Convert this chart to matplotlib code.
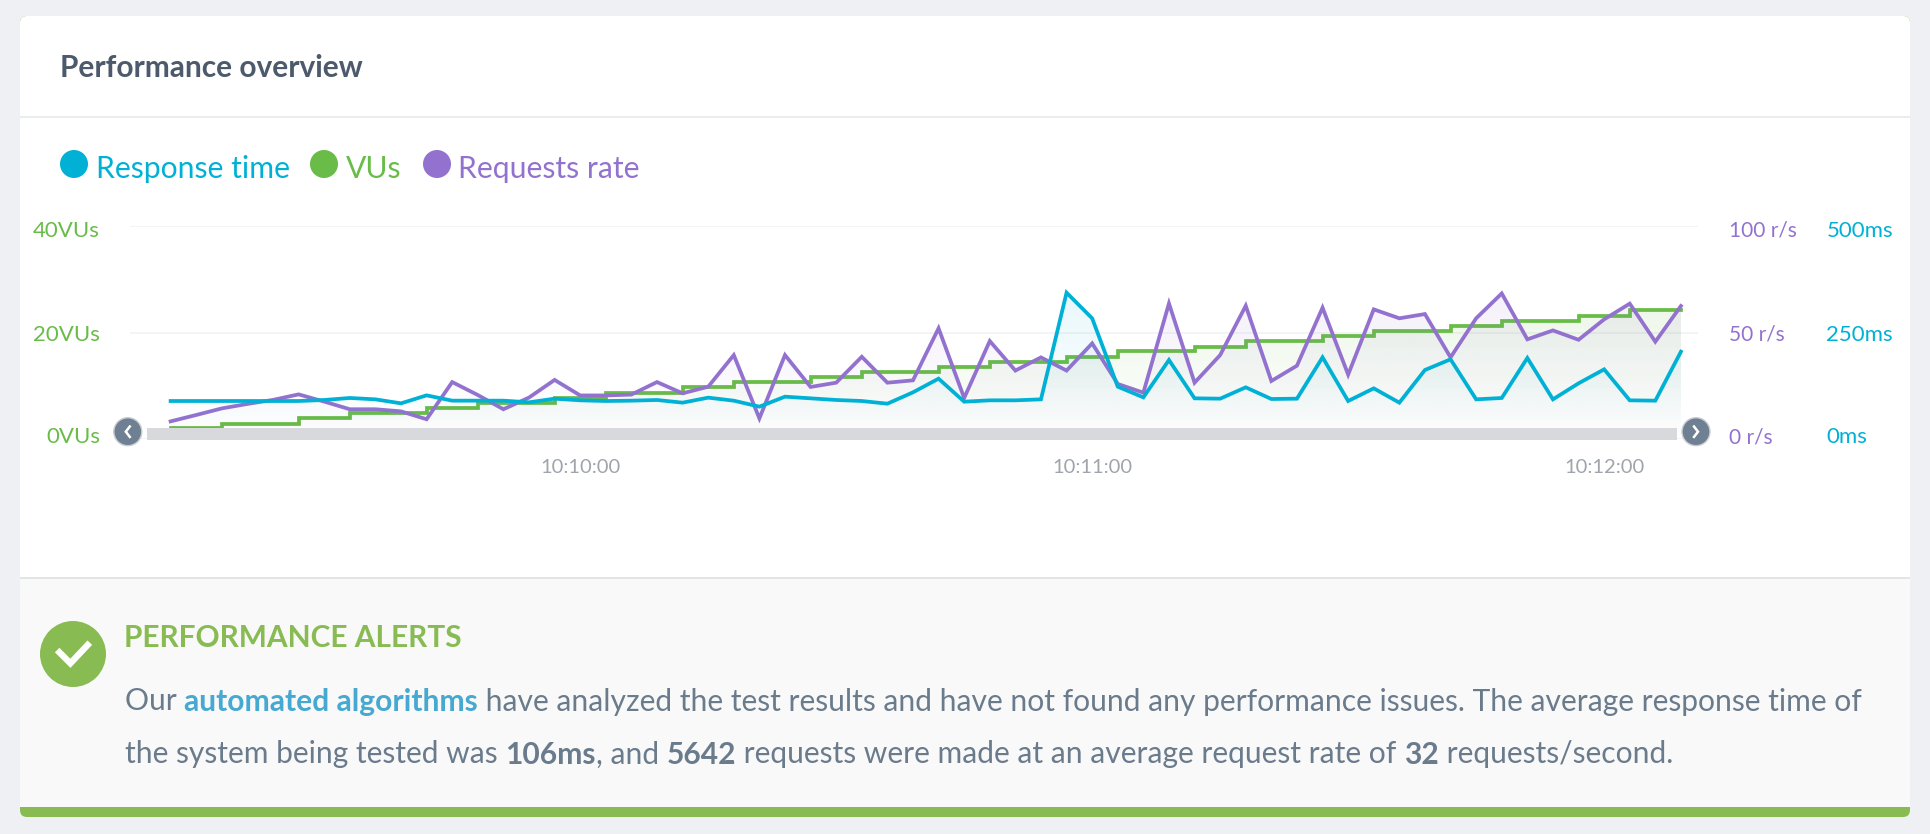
import numpy as np
import pandas as pd
import matplotlib
matplotlib.use("Agg")
import matplotlib.pyplot as plt
import matplotlib.dates as mdates
from matplotlib.patches import Ellipse, FancyBboxPatch, Rectangle
from matplotlib.transforms import ScaledTranslation
from matplotlib.colors import to_rgb

plt.rcParams['font.family'] = ['Lato', 'DejaVu Sans']

# ---- data
times = pd.date_range('2017-01-01 10:09:12', periods=60, freq='3s')
response_ms = [89.4, 89.4, 89.4, 89.4, 89.4, 89.4, 91.8, 96.5, 93.3, 83.9,
               102.7, 90.2, 90.2, 90.2, 86.3, 94.9, 91.0, 89.4, 90.2, 91.8,
               85.5, 97.3, 90.2, 76.1, 99.6, 95.7, 91.8, 89.4, 83.1, 109.8,
               142.0, 87.8, 91.0, 91.0, 93.3, 344.3, 283.9, 123.1, 98.0, 185.9,
               95.7, 94.9, 121.6, 94.1, 94.9, 192.2, 89.4, 119.2, 85.5, 162.4,
               187.5, 93.3, 96.5, 190.6, 93.3, 131.0, 163.9, 91.0, 90.2, 205.5]
vus = [2.1, 2.1, 2.9, 2.9, 2.9, 3.9, 3.9, 4.85, 4.85, 4.85,
       5.9, 5.9, 6.85, 6.85, 6.85, 7.8, 7.8, 8.7, 8.7, 8.7,
       9.7, 9.7, 10.7, 10.7, 10.7, 11.6, 11.6, 12.6, 12.6, 12.6,
       13.6, 13.6, 14.5, 14.5, 14.5, 15.5, 15.5, 16.5, 16.5, 16.5,
       17.4, 17.4, 18.4, 18.4, 18.4, 19.4, 19.4, 20.3, 20.3, 20.3,
       21.3, 21.3, 22.3, 22.3, 22.3, 23.2, 23.2, 24.2, 24.2, 24.2]
requests_rate = [8.3, 11.3, 14.4, 16.5, 18.4, 21.0, 17.6, 14.0, 14.0, 13.0,
                 9.3, 26.8, 20.7, 14.0, 19.5, 27.8, 20.5, 20.5, 20.9, 26.8,
                 21.5, 24.6, 39.5, 9.7, 39.5, 24.5, 26.5, 38.7, 26.5, 27.6,
                 52.1, 19.3, 46.1, 32.2, 38.4, 32.2, 45.0, 25.9, 21.8, 63.8,
                 26.5, 39.5, 62.7, 27.3, 34.5, 61.8, 30.3, 61.0, 56.8, 58.8,
                 38.4, 56.8, 68.5, 46.9, 51.1, 46.7, 56.3, 63.7, 45.8, 62.6]
vu_ticks = [0, 20, 40]
vu_labels = ['0VUs', '20VUs', '40VUs']
rate_ticks = [0, 50, 100]
rate_labels = ['0 r/s', '50 r/s', '100 r/s']
ms_ticks = [0, 250, 500]
ms_labels = ['0ms', '250ms', '500ms']

CYAN, GREEN, PURPLE = '#00b1d5', '#68bc47', '#9372cf'
W, H = 1930, 834
fig = plt.figure(figsize=(W / 100, H / 100), dpi=100, facecolor='#eef0f4')

# ---- page furniture, in pixel coordinates
bg = fig.add_axes([0, 0, 1, 1], zorder=0)
bg.set_xlim(0, W); bg.set_ylim(H, 0); bg.axis('off')
bg.add_patch(FancyBboxPatch((20, 16), 1890, 801, boxstyle='round,pad=0,rounding_size=7',
                            fc='#88bc52', ec='none'))
bg.add_patch(FancyBboxPatch((20, 16), 1890, 700, boxstyle='round,pad=0,rounding_size=7',
                            fc='white', ec='none'))
bg.add_patch(Rectangle((20, 579), 1890, 228, fc='#f9f9fa', ec='none'))
bg.add_patch(Rectangle((20, 577), 1890, 2, fc='#e3e4e6', ec='none'))
bg.add_patch(Rectangle((20, 116), 1890, 1.5, fc='#ebecee', ec='none'))
bg.text(60, 68, 'Performance overview', fontsize=21.5, fontweight='bold', color='#4c5a6b', va='center')

# legend
for cx, tx, label, col in [(74, 96, 'Response time', CYAN), (324, 346, 'VUs', GREEN),
                           (437, 458, 'Requests rate', PURPLE)]:
    bg.add_patch(Ellipse((cx, 164), 28, 28, fc=col, ec='none'))
    bg.text(tx, 169, label, fontsize=21.7, color=col, va='center')

# ---- chart axes
ax = fig.add_axes([130 / W, 1 - 439 / H, (1698 - 130) / W, (439 - 226.5) / H], zorder=1)
ax2 = ax.twinx()
ax3 = ax.twinx()
ax2.set_zorder(2); ax3.set_zorder(3)
t0 = pd.Timestamp('2017-01-01 10:10:00')
xlim = (mdates.date2num(t0 - pd.Timedelta(seconds=52.76)),
        mdates.date2num(t0 + pd.Timedelta(seconds=131.0)))


def gradient_area(a, x, y, color, alpha, step=None):
    """Area under a series, fading from the series' peak down to its baseline."""
    y = np.asarray(y, float)
    grad = np.zeros((128, 2, 4))
    grad[..., :3] = to_rgb(color)
    grad[..., 3] = np.linspace(alpha, 0, 128)[:, None]
    num = mdates.date2num(x)
    im = a.imshow(grad, extent=(num[0], num[-1], 0, y.max()), origin='upper',
                  aspect='auto', zorder=1, interpolation='bilinear')
    poly = a.fill_between(x, y, 0, step=step, color='none', lw=0)
    im.set_clip_path(poly.get_paths()[0], a.transData)


gradient_area(ax, times, vus, GREEN, 0.11, step='post')
gradient_area(ax2, times, requests_rate, PURPLE, 0.10)
gradient_area(ax3, times, response_ms, CYAN, 0.09)
LW = 2.7
ax.plot(times, vus, drawstyle='steps-post', color=GREEN, lw=LW, zorder=3, solid_joinstyle='miter')
ax2.plot(times, requests_rate, color=PURPLE, lw=LW, zorder=3, solid_joinstyle='miter')
ax3.plot(times, response_ms, color=CYAN, lw=LW, zorder=3, solid_joinstyle='miter')

for a, lim in [(ax, 40), (ax2, 100), (ax3, 500)]:
    a.set_xlim(*xlim)
    a.set_ylim(0, lim)
    a.patch.set_visible(False)
    for s in a.spines.values():
        s.set_visible(False)

ax.xaxis.set_major_locator(mdates.MinuteLocator())
ax.xaxis.set_major_formatter(mdates.DateFormatter('%H:%M:%S'))
ax.tick_params(axis='x', length=0, pad=14.5, labelsize=14.5, labelcolor='#a0a5ab')
ax.set_yticks(vu_ticks, vu_labels)
ax.tick_params(axis='y', length=0, pad=21.5, labelsize=16, labelcolor=GREEN)
ax.grid(axis='y', color='#f0f1f3', lw=1.1)
ax.set_axisbelow(True)
ax2.set_yticks(rate_ticks, rate_labels)
ax2.tick_params(axis='y', length=0, pad=22, labelsize=15, labelcolor=PURPLE)
ax3.set_yticks(ms_ticks, ms_labels)
ax3.tick_params(axis='y', length=0, pad=92.4, labelsize=16, labelcolor=CYAN)

nudge_top = ScaledTranslation(0, 2.5 / 100, fig.dpi_scale_trans)
nudge_bot = ScaledTranslation(0, 3.5 / 100, fig.dpi_scale_trans)
for a, which in [(ax, 'label1'), (ax2, 'label2'), (ax3, 'label2')]:
    ticks = a.yaxis.get_major_ticks()
    lab = getattr(ticks[0], which)
    lab.set_transform(lab.get_transform() + nudge_bot)
    lab = getattr(ticks[2], which)
    lab.set_transform(lab.get_transform() - nudge_top)

# ---- navigator bar above the chart
top = fig.add_axes([0, 0, 1, 1], zorder=5)
top.set_xlim(0, W); top.set_ylim(H, 0); top.axis('off')
top.add_patch(Rectangle((147, 428), 1530, 12, fc='#d8d9dd', ec='none'))
for cx, sign in [(127.8, 1), (1696, -1)]:
    top.add_patch(Ellipse((cx, 431.7), 28, 28, fc='#6f8092', ec='#c9ced4', lw=1))
    top.plot([cx + sign * 2, cx - sign * 2, cx + sign * 2], [426.5, 431.7, 436.9],
             color='white', lw=1.8, solid_joinstyle='miter')

# ---- performance alerts panel
top.add_patch(Ellipse((73, 654), 66, 66, fc='#88bc52', ec='none'))
top.plot([59.4, 70.4, 87.6], [652.3, 663.3, 645], color='white', lw=4.6, solid_joinstyle='miter')
top.text(124, 638, 'PERFORMANCE ALERTS', fontsize=21.5, fontweight='bold', color='#88bc52', va='center')

TXT, LINK = '#6a7b8c', '#45a9d1'
BODY = 21.6


def chain(x, y, parts):
    r = fig.canvas.get_renderer()
    for s, col, weight in parts:
        t = top.text(x, y, s, fontsize=BODY, color=col, fontweight=weight, va='center_baseline')
        x += t.get_window_extent(r).width


chain(125, 699, [('Our ', TXT, 'normal'), ('automated algorithms', LINK, 'bold'),
                 (' have analyzed the test results and have not found any performance issues. '
                  'The average response time of', TXT, 'normal')])
chain(125, 752, [('the system being tested was ', TXT, 'normal'), ('106ms', TXT, 'bold'),
                 (', and ', TXT, 'normal'), ('5642', TXT, 'bold'),
                 (' requests were made at an average request rate of ', TXT, 'normal'),
                 ('32', TXT, 'bold'), (' requests/second.', TXT, 'normal')])

fig.savefig('out.png', dpi=100, facecolor=fig.get_facecolor())
